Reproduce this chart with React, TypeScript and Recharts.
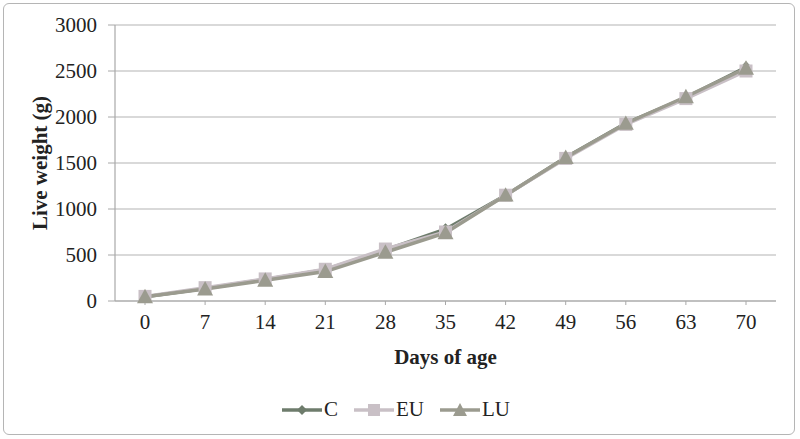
import React from 'react';
import { LineChart, Line, XAxis, YAxis, CartesianGrid, Legend } from 'recharts';

const days = ['0', '7', '14', '21', '28', '35', '42', '49', '56', '63', '70'];
const seriesC = [45, 135, 235, 340, 555, 780, 1150, 1560, 1930, 2210, 2540];
const seriesEU = [50, 145, 240, 345, 565, 750, 1150, 1550, 1920, 2200, 2500];
const seriesLU = [45, 130, 225, 320, 530, 740, 1150, 1560, 1930, 2220, 2530];
const yTicks = [0, 500, 1000, 1500, 2000, 2500, 3000];

const data = days.map((d, i) => ({ day: d, C: seriesC[i], EU: seriesEU[i], LU: seriesLU[i] }));

const FONT = "'Liberation Serif', 'Times New Roman', serif";
const colC = '#6e7c6c';
const colEU = '#c9c0c6';
const colLU = '#9b9b8f';

const Diamond = (props: any) => {
  const { cx, cy, fill } = props;
  if (cx == null || cy == null) return null;
  const r = 6;
  return <polygon points={`${cx},${cy - r} ${cx + r},${cy} ${cx},${cy + r} ${cx - r},${cy}`} fill={fill} />;
};
const Square = (props: any) => {
  const { cx, cy, fill } = props;
  if (cx == null || cy == null) return null;
  const r = 6.5;
  return <rect x={cx - r} y={cy - r} width={2 * r} height={2 * r} fill={fill} />;
};
const Tri = (props: any) => {
  const { cx, cy, fill } = props;
  if (cx == null || cy == null) return null;
  const r = 8;
  return <polygon points={`${cx},${cy - r} ${cx + r},${cy + r * 0.8} ${cx - r},${cy + r * 0.8}`} fill={fill} />;
};

const legendItems = [
  { name: 'C', color: colC, shape: 'diamond' },
  { name: 'EU', color: colEU, shape: 'square' },
  { name: 'LU', color: colLU, shape: 'triangle' },
];

const LegendContent = () => (
  <div style={{ display: 'flex', justifyContent: 'center', alignItems: 'center', fontFamily: FONT, fontSize: 21, color: '#222', paddingLeft: 6 }}>
    {legendItems.map((it) => (
      <div key={it.name} style={{ display: 'flex', alignItems: 'center', marginRight: 15 }}>
        <svg width={42} height={16}>
          <line x1={1} y1={8} x2={41} y2={8} stroke={it.color} strokeWidth={3.5} />
          {it.shape === 'diamond' && <polygon points="21,3 26,8 21,13 16,8" fill={it.color} />}
          {it.shape === 'square' && <rect x={15} y={2} width={12} height={12} fill={it.color} />}
          {it.shape === 'triangle' && <polygon points="21,1 28,14 14,14" fill={it.color} />}
        </svg>
        <span style={{ marginLeft: 1 }}>{it.name}</span>
      </div>
    ))}
  </div>
);

const YLabel = (props: any) => {
  const vb = props.viewBox || {};
  const cy = (vb.y || 0) + (vb.height || 0) / 2;
  return (
    <text x={40} y={cy} transform={`rotate(-90, 40, ${cy})`} textAnchor="middle" dominantBaseline="central"
      style={{ fontFamily: FONT, fontSize: 21, fontWeight: 'bold', fill: '#222' }}>
      Live weight (g)
    </text>
  );
};

const XLabel = (props: any) => {
  const vb = props.viewBox || {};
  const cx = (vb.x || 0) + (vb.width || 0) / 2;
  return (
    <text x={cx} y={357} textAnchor="middle" dominantBaseline="central"
      style={{ fontFamily: FONT, fontSize: 21, fontWeight: 'bold', fill: '#222' }}>
      Days of age
    </text>
  );
};

const tickStyle = { fontFamily: FONT, fontSize: 21, fill: '#222' };

export default function App() {
  return (
    <div style={{ position: 'fixed', left: 0, top: 0, width: 800, height: 439, background: '#fff', fontFamily: FONT }}>
      <div style={{ position: 'absolute', left: 3, top: 3, width: 792, height: 432, border: '1.5px solid #b5b5b5', borderRadius: 6, boxSizing: 'border-box' }} />
      <LineChart width={800} height={439} data={data} margin={{ top: 25, right: 24, bottom: 68, left: 0 }} style={{ fontFamily: FONT }}>
        <CartesianGrid vertical={false} stroke="#b4b4b4" strokeWidth={1.2} />
        <XAxis
          dataKey="day"
          height={70}
          padding={{ left: 30, right: 30 }}
          axisLine={{ stroke: '#a8a8a8', strokeWidth: 1.2 }}
          tickLine={{ stroke: '#a8a8a8' }}
          tickSize={4}
          tick={tickStyle}
          tickMargin={9}
          label={<XLabel />}
        />
        <YAxis
          width={115}
          domain={[0, 3000]}
          ticks={yTicks}
          axisLine={{ stroke: '#a8a8a8', strokeWidth: 1.2 }}
          tickLine={{ stroke: '#a8a8a8' }}
          tickSize={7}
          tick={tickStyle}
          tickMargin={11}
          label={<YLabel />}
        />
        <Legend verticalAlign="middle" align="center" content={<LegendContent />} wrapperStyle={{ position: 'absolute', top: 397, left: 0, width: 800 }} />
        <Line dataKey="C" stroke={colC} strokeWidth={3.5} dot={<Diamond fill={colC} />} isAnimationActive={false} />
        <Line dataKey="EU" stroke={colEU} strokeWidth={3.5} dot={<Square fill={colEU} />} isAnimationActive={false} />
        <Line dataKey="LU" stroke={colLU} strokeWidth={3.5} dot={<Tri fill={colLU} />} isAnimationActive={false} />
      </LineChart>
    </div>
  );
}
